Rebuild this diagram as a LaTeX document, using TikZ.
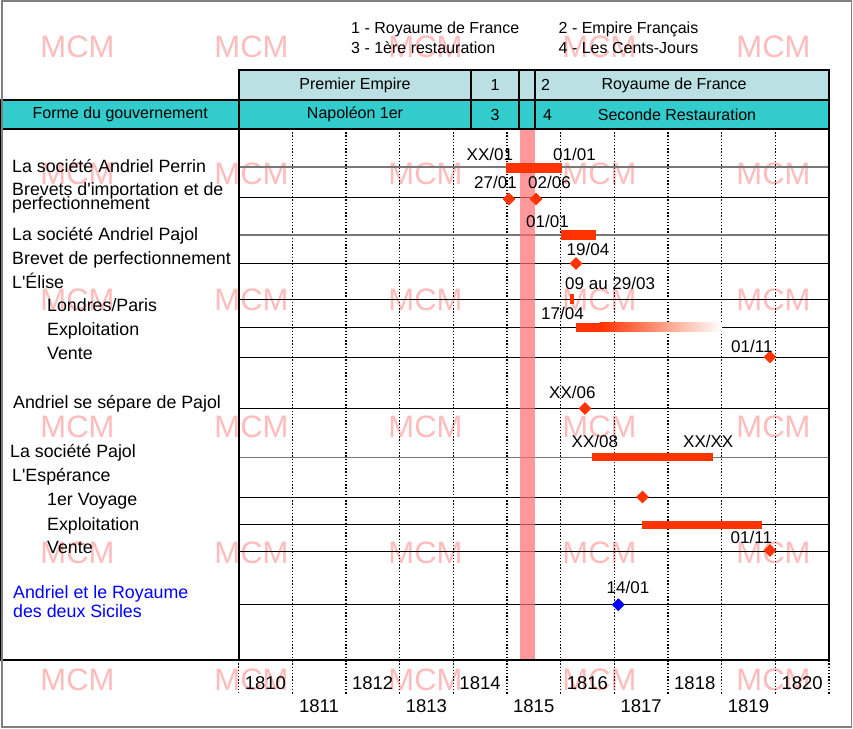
\documentclass[tikz,border=0pt]{standalone}
\usepackage{fontspec}
\setmainfont{Liberation Sans}[Ligatures=TeXOff]
\usetikzlibrary{shapes.geometric}
\definecolor{hdrlight}{RGB}{187,224,228}
\definecolor{hdrdark}{RGB}{51,204,204}
\definecolor{barred}{RGB}{255,51,0}
\definecolor{wmark}{RGB}{255,188,188}
\definecolor{bandred}{RGB}{255,110,110}
\definecolor{framegray}{RGB}{128,128,128}
\definecolor{rowgray}{RGB}{120,120,120}
\begin{document}
\begin{tikzpicture}[x=1pt,y=-1pt,
  wm/.style={text=wmark,inner sep=0pt,font=\fontsize{31}{31}\selectfont},
  gridline/.style={black,line width=1.3pt,dash pattern=on 1.4pt off 1.8pt},
  rowline/.style={black,line width=0.9pt},
  rowlinegray/.style={rowgray,line width=1.6pt},
  thickborder/.style={black,line width=2.6pt},
  hdrtop/.style={draw=black,line width=2.6pt,fill=hdrlight,inner sep=0pt,minimum height=30pt,font=\fontsize{16}{16}\selectfont},
  hdrbot/.style={draw=black,line width=2.6pt,fill=hdrdark,inner sep=0pt,minimum height=29pt,font=\fontsize{16}{16}\selectfont},
  hdrtext/.style={inner sep=0pt,font=\fontsize{16}{16}\selectfont},
  legend/.style={inner sep=0pt,anchor=base west,font=\fontsize{16}{16}\selectfont},
  lbl/.style={inner sep=0pt,anchor=base west,font=\fontsize{17.8}{17.8}\selectfont},
  datelbl/.style={inner sep=0pt,anchor=base west,font=\fontsize{17}{17}\selectfont},
  yearlbl/.style={inner sep=0pt,anchor=base,font=\fontsize{18.5}{18.5}\selectfont},
  bar/.style={fill=barred},
  diam/.style={diamond,fill=barred,inner sep=0pt,minimum width=13pt,minimum height=13pt},
  bluediam/.style={diamond,fill=blue,inner sep=0pt,minimum width=13pt,minimum height=13pt}]
\useasboundingbox (0,0) rectangle (853,728);
\fill[white] (0,0) rectangle (853,728);

% watermarks
\foreach \yy [count=\i] in {47,173.5,300,426.5,553,679.5}
  \foreach \xx [count=\j] in {77.5,251.5,425.5,599.5,773.5}
    \node[wm] (wm\i\j) at (\xx,\yy) {MCM};

% grid lines
\foreach \k in {1,...,11}
  \draw[gridline] ({238.5+53.68*\k},129) -- ({238.5+53.68*\k},695);
\draw[gridline] (238.5,660) -- (238.5,695);

% row lines
\foreach \yy in {197,263.5,299.5,327.5,357.5,408.5,497,524.5,551.5,604.5}
  \draw[rowline] (240,\yy) -- (829,\yy);
\foreach \yy in {167,235,457.5}
  \draw[rowlinegray] (240,\yy) -- (829,\yy);

% red band (Cent-Jours)
\fill[bandred,opacity=0.7] (520,129) rectangle (535,660);

% bars
\fill[bar] (506,163) rectangle (561.5,173);
\fill[bar] (561,230) rectangle (595.5,240);
\fill[bar] (570,294) rectangle (574,303.5);
\fill[bar] (575.5,322.5) rectangle (600,331.5);
\shade[left color=barred,right color=white] (599.5,322.5) rectangle (722,331.5);
\fill[bar] (592,452.5) rectangle (713,461);
\fill[bar] (642,520.5) rectangle (762,529);

% diamonds
\node[diam] (d1) at (509,199) {};
\node[diam] (d2) at (536,199) {};
\node[diam] (d3) at (576,263.5) {};
\node[diam] (d4) at (770,357) {};
\node[diam] (d5) at (585,408.5) {};
\node[diam] (d6) at (642.5,497) {};
\node[diam] (d7) at (770,550.5) {};
\node[bluediam] (d8) at (618.3,604.7) {};

% date labels
\node[datelbl] (t1) at (466.5,160) {XX/01};
\node[datelbl] (t2) at (553,160) {01/01};
\node[datelbl] (t3) at (474,188) {27/01};
\node[datelbl] (t4) at (528,188) {02/06};
\node[datelbl] (t5) at (526,227) {01/01};
\node[datelbl] (t6) at (566.5,255) {19/04};
\node[datelbl] (t7) at (565,289) {09 au 29/03};
\node[datelbl] (t8) at (541,319) {17/04};
\node[datelbl] (t9) at (731,352) {01/11};
\node[datelbl] (t10) at (549,398) {XX/06};
\node[datelbl] (t11) at (571.5,447) {XX/08};
\node[datelbl] (t12) at (683,447) {XX/XX};
\node[datelbl] (t13) at (730.5,543) {01/11};
\node[datelbl] (t14) at (606.5,593) {14/01};

% left labels
\node[lbl] (l1) at (12,172) {La société Andriel Perrin};
\node[lbl] (l2a) at (12,195) {Brevets d'importation et de};
\node[lbl] (l2b) at (12,209) {perfectionnement};
\node[lbl] (l3) at (12,240) {La société Andriel Pajol};
\node[lbl] (l4) at (12,264) {Brevet de perfectionnement};
\node[lbl] (l5) at (12,288) {L'Élise};
\node[lbl] (l6) at (47,311) {Londres/Paris};
\node[lbl] (l7) at (47,335) {Exploitation};
\node[lbl] (l8) at (47,359) {Vente};
\node[lbl] (l9) at (13,408) {Andriel se sépare de Pajol};
\node[lbl] (l10) at (10,457) {La société Pajol};
\node[lbl] (l11) at (12,481.5) {L'Espérance};
\node[lbl] (l12) at (47,505) {1er Voyage};
\node[lbl] (l13) at (47,530) {Exploitation};
\node[lbl] (l14) at (47,553) {Vente};
\node[lbl,text=blue] (l15) at (13,598) {Andriel et le Royaume};
\node[lbl,text=blue] (l16) at (13,617) {des deux Siciles};

% borders of table
\draw[thickborder] (1.5,129) rectangle (239,660);
\draw[thickborder] (239,660) -- (829,660) -- (829,129);

% header rows
\node[hdrtop,minimum width=232pt] (pe) at (355,85) {Premier Empire};
\node[hdrtop,minimum width=48pt] (h1) at (495,85) {1};
\node[hdrtop,minimum width=16pt] (hcj) at (527,85) {};
\node[hdrtop,minimum width=294pt] (hrf) at (682,85) {};
\node[hdrbot,minimum width=237.5pt] (fg) at (120.25,114.5) {Forme du gouvernement};
\node[hdrbot,minimum width=232pt] (nap) at (355,114.5) {Napoléon 1er};
\node[hdrbot,minimum width=48pt] (h3) at (495,114.5) {3};
\node[hdrbot,minimum width=16pt] (hcj2) at (527,114.5) {};
\node[hdrbot,minimum width=294pt] (hsr) at (682,114.5) {};
\node[hdrtext,anchor=west] (h2) at (541,85) {2};
\node[hdrtext] (rf) at (674,85) {Royaume de France};
\node[hdrtext,anchor=west] (h4) at (543,114.5) {4};
\node[hdrtext] (sr) at (677,114.5) {Seconde Restauration};

% legend
\node[legend] (lg1) at (351,33.5) {1 - Royaume de France};
\node[legend] (lg2) at (558.5,33.5) {2 - Empire Français};
\node[legend] (lg3) at (351,53) {3 - 1ère restauration};
\node[legend] (lg4) at (558.5,53) {4 - Les Cents-Jours};

% years
\foreach \yr [count=\k from 0] in {1810,...,1820}{
  \pgfmathsetmacro{\cx}{238.5+53.68*\k+26.84}
  \pgfmathtruncatemacro{\odd}{mod(\k,2)}
  \ifnum\odd=0
    \node[yearlbl] (y\yr) at (\cx,689.5) {\yr};
  \else
    \node[yearlbl] (y\yr) at (\cx,712) {\yr};
  \fi
}

% outer frame
\draw[framegray,line width=1.2pt] (2,1) rectangle (851.5,727);
\end{tikzpicture}
\end{document}
